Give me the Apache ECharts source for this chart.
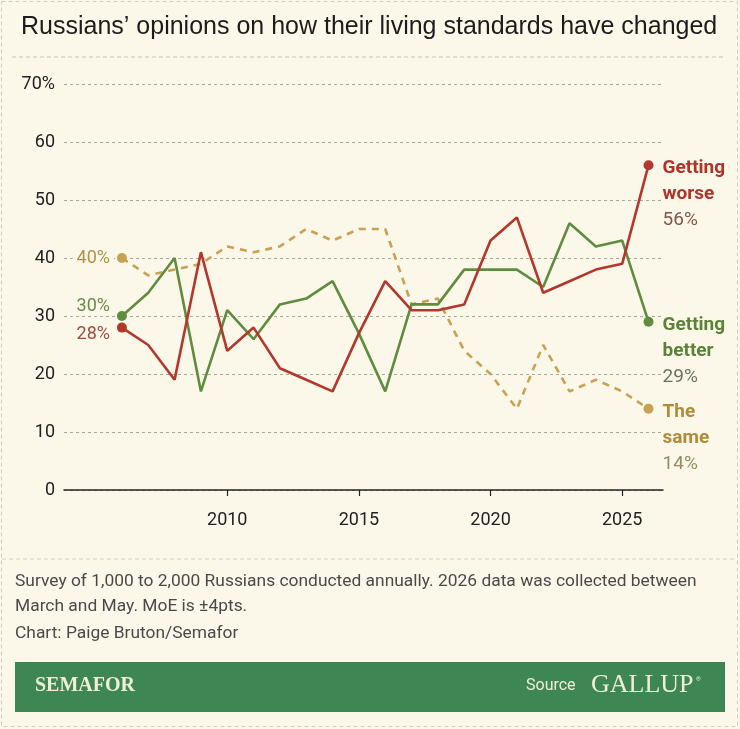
<!DOCTYPE html>
<html>
<head>
<meta charset="utf-8">
<script src="https://cdn.jsdelivr.net/npm/echarts@6/dist/echarts.min.js"></script>
<style>
  html, body { margin: 0; padding: 0; background: #fbf8e9; }
  #chart { width: 740px; height: 729px; }
</style>
</head>
<body>
<div id="chart"></div>
<script>
// survey years
const years = [2006, 2007, 2008, 2009, 2010, 2011, 2012, 2013, 2014, 2015, 2016,
  2017, 2018, 2019, 2020, 2021, 2022, 2023, 2024, 2025, 2026]
// share of respondents, %
const gettingWorse = [28, 25, 19, 41, 24, 28, 21, 19, 17, 27, 36, 31, 31, 32, 43, 47, 34, 36, 38, 39, 56]
const gettingBetter = [30, 34, 40, 17, 31, 26, 32, 33, 36, 27, 17, 32, 32, 38, 38, 38, 35, 46, 42, 43, 29]
const theSame = [40, 37, 38, 39, 42, 41, 42, 45, 43, 45, 45, 32, 33, 24, 20, 14, 25, 17, 19, 17, 14]
const xTicks = [2010, 2015, 2020, 2025]
const yTicks = [0, 10, 20, 30, 40, 50, 60, 70]

const RED = '#b3372c'
const GREEN = '#5f8c3f'
const TAN = '#c9a155'
const BG = '#fbf8e9'
const SANS = 'Roboto, "Liberation Sans", sans-serif'

const myChart = echarts.init(document.getElementById('chart'))

/* first and last points get a dot, start value on the left, name + value on the right */
function buildSeries(name, values, color, opts) {
  const last = values.length - 1
  const data = values.map((v, i) => {
    const item = { value: [years[i], v] }
    if (i === 0) {
      item.label = {
        show: true,
        position: 'left',
        distance: 3,
        formatter: v + '%',
        color: opts.startColor,
        fontFamily: SANS,
        fontSize: 18,
        backgroundColor: BG,
        padding: [0, 4],
        offset: [0, opts.startOffset]
      }
    }
    if (i === last) {
      item.label = {
        show: true,
        position: 'right',
        distance: 9,
        offset: [0, 29],
        formatter: opts.endText.map(s => '{n|' + s + '}').join('\n') + '\n{v|' + v + '%}',
        rich: {
          n: { color: opts.nameColor, fontFamily: SANS, fontWeight: 'bold', fontSize: 19, lineHeight: 26 },
          v: { color: opts.valueColor, fontFamily: SANS, fontSize: 19, lineHeight: 26 }
        }
      }
    }
    return item
  })
  return {
    name: name,
    type: 'line',
    data: data,
    symbol: 'circle',
    symbolSize: (val, params) => (params.dataIndex === 0 || params.dataIndex === last ? 10 : 0),
    showSymbol: true,
    smooth: false,
    itemStyle: { color: color },
    lineStyle: { color: color, width: 2.6, type: opts.dashed ? [7, 6] : 'solid' },
    z: opts.z,
    silent: true,
    animation: false
  }
}

const option = {
  backgroundColor: BG,
  animation: false,
  title: {
    text: 'Russians’ opinions on how their living standards have changed',
    left: 16,
    top: 10,
    textStyle: { fontFamily: '"Liberation Sans", Arial, sans-serif', fontSize: 25, fontWeight: 'normal', color: '#1c1c1c' }
  },
  grid: { left: 64, right: 77, top: 84, bottom: 239, containLabel: false, outerBoundsMode: 'none' },
  xAxis: {
    type: 'value',
    min: 2003.8,
    max: 2026.55,
    splitLine: { show: false },
    axisLine: { show: true, onZero: false, lineStyle: { color: '#222', width: 1.5 } },
    axisTick: { show: true, customValues: xTicks, length: 6, lineStyle: { color: '#222', width: 1.2 } },
    axisLabel: { customValues: xTicks, margin: 21, color: '#222', fontFamily: SANS, fontSize: 18, formatter: v => String(v) }
  },
  yAxis: {
    type: 'value',
    min: 0,
    max: 70,
    interval: 10,
    axisLine: { show: false },
    axisTick: { show: false },
    axisLabel: {
      margin: 9,
      color: '#222',
      fontFamily: SANS,
      fontSize: 18,
      formatter: v => (v === yTicks[yTicks.length - 1] ? v + '%' : String(v))
    },
    splitLine: { show: true, lineStyle: { color: '#a9a69a', width: 1, type: [3, 3] } }
  },
  series: [
    buildSeries('The same', theSame, TAN, {
      dashed: true, z: 2, startOffset: 0,
      startColor: '#b0904a', nameColor: '#b08c3a', valueColor: '#9a8a62', endText: ['The', 'same']
    }),
    buildSeries('Getting better', gettingBetter, GREEN, {
      z: 3, startOffset: -10,
      startColor: '#6b8a4c', nameColor: '#5a8338', valueColor: '#6b7260', endText: ['Getting', 'better']
    }),
    buildSeries('Getting worse', gettingWorse, RED, {
      z: 4, startOffset: 7,
      startColor: '#a04b42', nameColor: '#b0332a', valueColor: '#80554d', endText: ['Getting', 'worse']
    })
  ],
  graphic: [
    // outer dashed frame
    { type: 'rect', shape: { x: 1.5, y: 1.5, width: 736, height: 725 }, style: { fill: null, stroke: '#d2cfc1', lineWidth: 1, lineDash: [4, 3] }, silent: true },
    // dashed rule under title
    { type: 'line', shape: { x1: 12, y1: 57, x2: 725, y2: 57 }, style: { stroke: '#c3c0b2', lineWidth: 1, lineDash: [4, 3] }, silent: true },
    // dashed rule above notes
    { type: 'line', shape: { x1: 2, y1: 559, x2: 737, y2: 559 }, style: { stroke: '#d2cfc1', lineWidth: 1, lineDash: [4, 3] }, silent: true },
    {
      type: 'text', left: 15, top: 569,
      style: {
        text: 'Survey of 1,000 to 2,000 Russians conducted annually. 2026 data was collected between\nMarch and May. MoE is ±4pts.',
        fill: '#4a4a4a', font: '17.4px ' + SANS, lineHeight: 25
      }
    },
    { type: 'text', left: 15, top: 625, style: { text: 'Chart: Paige Bruton/Semafor', fill: '#4a4a4a', font: '17.4px ' + SANS } },
    // brand band
    { type: 'rect', shape: { x: 15, y: 662, width: 710, height: 50 }, style: { fill: '#3f8752' }, silent: true },
    { type: 'text', left: 35, top: 676, style: { text: 'SEMAFOR', fill: '#eef0d6', font: 'bold 20px "Liberation Serif", "DejaVu Serif", serif' } },
    { type: 'text', left: 526, top: 678, style: { text: 'Source', fill: '#eef0d6', font: '16px ' + SANS } },
    { type: 'text', left: 591, top: 672, style: { text: 'GALLUP', fill: '#eef0d6', font: '26px "Liberation Serif", "DejaVu Serif", serif' } },
    { type: 'text', left: 696, top: 676, style: { text: '®', fill: '#eef0d6', font: '6px ' + SANS } }
  ]
}

option && myChart.setOption(option)
</script>
</body>
</html>
